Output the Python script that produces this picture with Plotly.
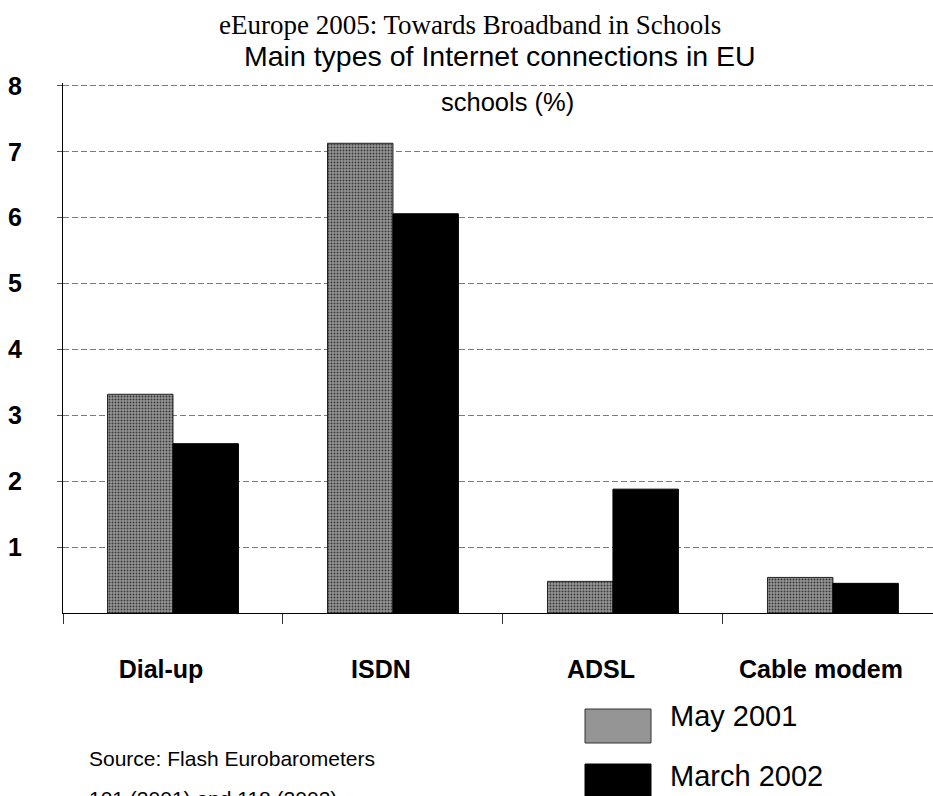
import plotly.graph_objects as go

categories = ["Dial-up", "ISDN", "ADSL", "Cable modem"]
may_2001 = [3.32, 7.13, 0.48, 0.54]
march_2002 = [2.57, 6.06, 1.88, 0.45]
y_ticks = [1, 2, 3, 4, 5, 6, 7, 8]
series_names = ["May 2001", "March 2002"]

W, H = 933, 796
L, R, T, B = 63, 0, 83, 183
PW, PH = W - L - R, H - T - B

fig = go.Figure()
fig.add_trace(go.Bar(
    x=categories, y=may_2001, name=series_names[0],
    marker=dict(color="#8c8c8c", line=dict(color="#222", width=1),
                pattern=dict(shape=".", bgcolor="#989898", fgcolor="#383838",
                             size=3, solidity=0.35, fillmode="replace")),
))
fig.add_trace(go.Bar(
    x=categories, y=march_2002, name=series_names[1],
    marker=dict(color="#000000", line=dict(color="#000", width=1)),
))

fig.update_layout(
    width=W, height=H,
    margin=dict(l=L, r=R, t=T, b=B),
    paper_bgcolor="white", plot_bgcolor="white",
    barmode="group", bargap=0.405, bargroupgap=0,
    showlegend=False,
    font=dict(family="Liberation Sans, Arial", color="black"),
)
fig.update_xaxes(
    range=[-0.5, 3.455], showline=True, linecolor="black", linewidth=1,
    ticks="outside", tickson="boundaries", ticklen=10, tickcolor="#333",
    tickfont=dict(size=25, family="Liberation Sans, Arial", weight="bold"),
    ticklabelstandoff=34, ticklabelshift=-12, showgrid=False,
)
fig.update_yaxes(
    range=[0, 8.045], tickvals=y_ticks, showline=True, linecolor="black", linewidth=1,
    ticks="outside", ticklen=5, tickcolor="#555",
    tickfont=dict(size=25, family="Liberation Sans, Arial", weight="bold"),
    ticklabelstandoff=30, showgrid=True, gridcolor="#7a7a7a", gridwidth=1,
    griddash="6px,3px", zeroline=False,
)

def px_to_paper(px, py):
    return (px - L) / PW, (H - B - py) / PH

annotations = [
    dict(text="eEurope 2005: Towards Broadband in Schools", x=470, y=25,
         font=dict(family="Liberation Serif, Times New Roman", size=27)),
    dict(text="Main types of Internet connections in EU", x=500, y=56,
         font=dict(family="Liberation Sans, Arial", size=28.5)),
    dict(text="schools (%)", x=507, y=102,
         font=dict(family="Liberation Sans, Arial", size=25.5)),
    dict(text="Source: Flash Eurobarometers", x=87, y=758, xanchor="left",
         font=dict(family="Liberation Sans, Arial", size=21)),
    dict(text="101 (2001) and 118 (2002)", x=87, y=798, xanchor="left",
         font=dict(family="Liberation Sans, Arial", size=21)),
    dict(text=series_names[0], x=668, y=716, xanchor="left",
         font=dict(family="Liberation Sans, Arial", size=29)),
    dict(text=series_names[1], x=668, y=776, xanchor="left",
         font=dict(family="Liberation Sans, Arial", size=29)),
]
for a in annotations:
    xp, yp = px_to_paper(a.pop("x"), a.pop("y"))
    a.update(xref="paper", yref="paper", x=xp, y=yp,
             yanchor="middle", showarrow=False)
    a.setdefault("xanchor", "center")
    fig.add_annotation(**a)

def pbox(x0, y0, x1, y1):
    ax, ay = px_to_paper(x0, y1)
    bx, by = px_to_paper(x1, y0)
    return dict(x0=ax, x1=bx, y0=ay, y1=by)

fig.add_shape(type="rect", xref="paper", yref="paper", **pbox(585, 709, 651, 743),
              fillcolor="#959595", line=dict(color="#333", width=1))
fig.add_shape(type="rect", xref="paper", yref="paper", **pbox(585, 764, 651, 810),
              fillcolor="#000000", line=dict(color="#000", width=1))

fig.write_html("out.html")
